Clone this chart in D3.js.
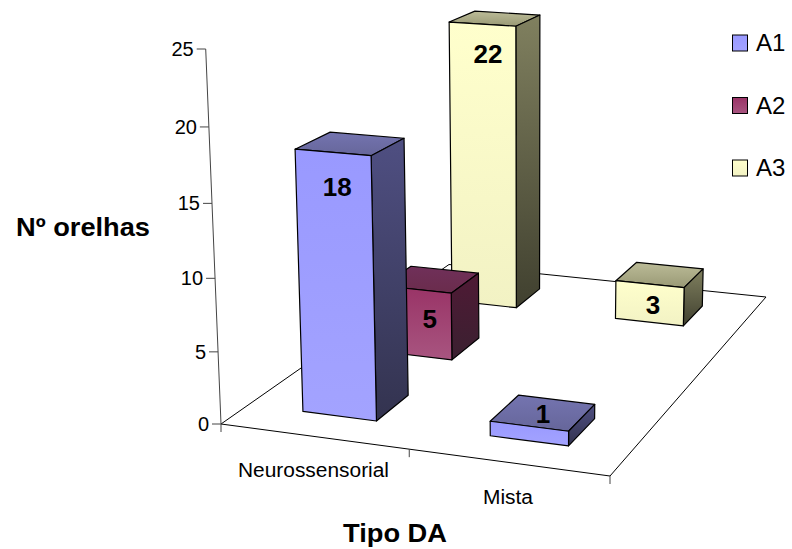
<!DOCTYPE html>
<html>
<head>
<meta charset="utf-8">
<script src="https://cdn.jsdelivr.net/npm/d3@7"></script>
<style>
  html, body { margin: 0; padding: 0; background: #fff; }
  text { font-family: "Liberation Sans", Arial, sans-serif; fill: #000; }
</style>
</head>
<body>
<div id="wrapper"></div>
<script>
// data
const categories = ["Neurossensorial", "Mista"]
const seriesNames = ["A1", "A2", "A3"]
const a1Values = [18, 1]
const a2Values = [5, null]
const a3Values = [22, 3]
const seriesValues = [a1Values, a2Values, a3Values]
const yTicks = [0, 5, 10, 15, 20, 25]

const width = 792
const height = 549

// floor of the 3d box, screen corners
const floor = {
  frontLeft: [221, 424],
  frontRight: [610, 476],
  backRight: [766, 297],
  backLeft: [449, 264.5]
}
// vertical lines meet far below the picture
const vanish = [530, 8000]
const axisTop = 49

// face colours, top and bottom stop of each gradient
const palette = [
  { front: ["#9999ff", "#a3a3ff"], side: ["#4f4f82", "#33334f"], top: ["#7474b0", "#66669a"] },
  { front: ["#993366", "#a85580"], side: ["#4f1a35", "#3a2030"], top: ["#70305a", "#6a2c4c"] },
  { front: ["#ffffcc", "#f2f2c4"], side: ["#80805f", "#40402f"], top: ["#bcbc98", "#999975"] }
]

const xBand = d3.scaleBand().domain(d3.range(categories.length)).range([0, 0.998]).paddingInner(0.6).paddingOuter(0.3)
const zBand = d3.scaleBand().domain(d3.range(seriesNames.length)).range([0, 1]).paddingInner(0.6).paddingOuter(0.3)
const yScale = d3.scaleLinear().domain([0, 25]).range([0, 1])

// homography for the floor (unit square to quad)
const [x0, y0] = floor.frontLeft
const [x1, y1] = floor.frontRight
const [x2, y2] = floor.backRight
const [x3, y3] = floor.backLeft
const dx1 = x1 - x2, dx2 = x3 - x2, sx = x0 - x1 + x2 - x3
const dy1 = y1 - y2, dy2 = y3 - y2, sy = y0 - y1 + y2 - y3
const den = dx1 * dy2 - dx2 * dy1
const g = (sx * dy2 - dx2 * sy) / den
const h = (dx1 * sy - sx * dy1) / den
const cw = -(y0 - axisTop) / (vanish[1] - axisTop)

// u across categories, v into the chart, t up the value axis
function project(u, v, t) {
  const w = g * u + h * v + 1 + cw * t
  const px = (x1 - x0 + g * x1) * u + (x3 - x0 + h * x3) * v + x0 + vanish[0] * cw * t
  const py = (y1 - y0 + g * y1) * u + (y3 - y0 + h * y3) * v + y0 + vanish[1] * cw * t
  return [px / w, py / w]
}

const line = d3.line()
const quad = pts => line(pts) + "Z"

const svg = d3.select("#wrapper").append("svg")
  .attr("width", width)
  .attr("height", height)
  .style("display", "block")

// gradients
const defs = svg.append("defs")
palette.forEach((p, i) => {
  Object.keys(p).forEach(face => {
    const grad = defs.append("linearGradient")
      .attr("id", `g${i}-${face}`)
      .attr("x1", 0).attr("y1", 0).attr("x2", 0).attr("y2", 1)
    grad.append("stop").attr("offset", 0).attr("stop-color", p[face][0])
    grad.append("stop").attr("offset", 1).attr("stop-color", p[face][1])
  })
})

// floor outline
svg.append("path")
  .attr("d", quad([[0, 0], [1, 0], [1, 1], [0, 1]].map(d => project(d[0], d[1], 0))))
  .attr("fill", "none")
  .attr("stroke", "#000")
  .attr("stroke-width", 1)

// value axis
const yAxis = svg.append("g")
yAxis.append("path")
  .attr("d", line([project(0, 0, 0), project(0, 0, 1)]))
  .attr("stroke", "#444")
  .attr("fill", "none")
yAxis.selectAll("g")
  .data(yTicks)
  .join("g")
  .each(function (d) {
    const [px, py] = project(0, 0, yScale(d))
    const tick = d3.select(this)
    tick.append("line")
      .attr("x1", px - 9).attr("x2", px)
      .attr("y1", py).attr("y2", py)
      .attr("stroke", "#444")
    tick.append("text")
      .attr("x", px - 12)
      .attr("y", py + 7)
      .attr("text-anchor", "end")
      .style("font-size", "20px")
      .text(d)
  })

// category ticks and labels
const catTicks = [0, 0.5, 1]
svg.append("g").selectAll("line")
  .data(catTicks)
  .join("line")
  .attr("x1", d => project(d, 0, 0)[0])
  .attr("x2", d => project(d, 0, 0)[0])
  .attr("y1", d => project(d, 0, 0)[1])
  .attr("y2", d => project(d, 0, 0)[1] + 8)
  .attr("stroke", "#444")

const catLabelPos = [[313.5, 477], [508, 504]]
svg.append("g").selectAll("text")
  .data(categories)
  .join("text")
  .attr("x", (d, i) => catLabelPos[i][0])
  .attr("y", (d, i) => catLabelPos[i][1])
  .attr("text-anchor", "middle")
  .style("font-size", "20px")
  .attr("textLength", (d, i) => [151, 50][i])
  .attr("lengthAdjust", "spacingAndGlyphs")
  .text(d => d)

// bars, back to front
const bars = []
seriesNames.forEach((name, s) => {
  categories.forEach((cat, c) => {
    if (seriesValues[s][c] != null) bars.push({ s, c, value: seriesValues[s][c] })
  })
})
bars.sort((a, b) => (b.s - a.s) || (a.c - b.c))

// label shift from the centre of the top face
const labelNudge = {
  "0-0": [-13, 52], "0-1": [0, 10],
  "1-0": [-1, 49],
  "2-0": [-7, 44], "2-1": [-7, 39]
}

const barGroups = svg.append("g").selectAll("g")
  .data(bars)
  .join("g")

barGroups.each(function (d) {
  const bar = d3.select(this)
  const u0 = xBand(d.c), u1 = u0 + xBand.bandwidth()
  const v0 = zBand(d.s), v1 = v0 + zBand.bandwidth()
  const t = yScale(d.value)
  const faces = [
    ["top", [project(u0, v0, t), project(u1, v0, t), project(u1, v1, t), project(u0, v1, t)]],
    ["side", [project(u1, v0, t), project(u1, v1, t), project(u1, v1, 0), project(u1, v0, 0)]],
    ["front", [project(u0, v0, t), project(u1, v0, t), project(u1, v0, 0), project(u0, v0, 0)]]
  ]
  faces.forEach(([face, pts]) => {
    bar.append("path")
      .attr("d", quad(pts))
      .attr("fill", `url(#g${d.s}-${face})`)
      .attr("stroke", "#000")
      .attr("stroke-width", 1.2)
      .attr("stroke-linejoin", "round")
  })
})

// value labels on top of everything
barGroups.append("text")
  .attr("x", d => {
    const u = xBand(d.c) + xBand.bandwidth() / 2, v = zBand(d.s) + zBand.bandwidth() / 2
    return project(u, v, yScale(d.value))[0] + labelNudge[`${d.s}-${d.c}`][0]
  })
  .attr("y", d => {
    const u = xBand(d.c) + xBand.bandwidth() / 2, v = zBand(d.s) + zBand.bandwidth() / 2
    return project(u, v, yScale(d.value))[1] + labelNudge[`${d.s}-${d.c}`][1]
  })
  .attr("text-anchor", "middle")
  .style("font-size", "26px")
  .style("font-weight", "bold")
  .text(d => d.value)

// legend
const legendY = d3.scalePoint().domain(seriesNames).range([43, 168])
const legend = svg.append("g").selectAll("g")
  .data(seriesNames)
  .join("g")
  .attr("transform", d => `translate(0, ${legendY(d)})`)
legend.append("rect")
  .attr("x", 732.5).attr("y", -8)
  .attr("width", 15).attr("height", 16)
  .attr("fill", (d, i) => `url(#g${i}-front)`)
  .attr("stroke", "#000")
legend.append("text")
  .attr("x", 756)
  .attr("y", 8)
  .style("font-size", "24px")
  .text(d => d)

// axis titles
svg.append("text")
  .attr("x", 83).attr("y", 236)
  .attr("text-anchor", "middle")
  .style("font-size", "25px")
  .style("font-weight", "bold")
  .attr("textLength", 134)
  .attr("lengthAdjust", "spacingAndGlyphs")
  .text("Nº orelhas")
svg.append("text")
  .attr("x", 395).attr("y", 542)
  .attr("text-anchor", "middle")
  .style("font-size", "25px")
  .style("font-weight", "bold")
  .attr("textLength", 104)
  .attr("lengthAdjust", "spacingAndGlyphs")
  .text("Tipo DA")
</script>
</body>
</html>
